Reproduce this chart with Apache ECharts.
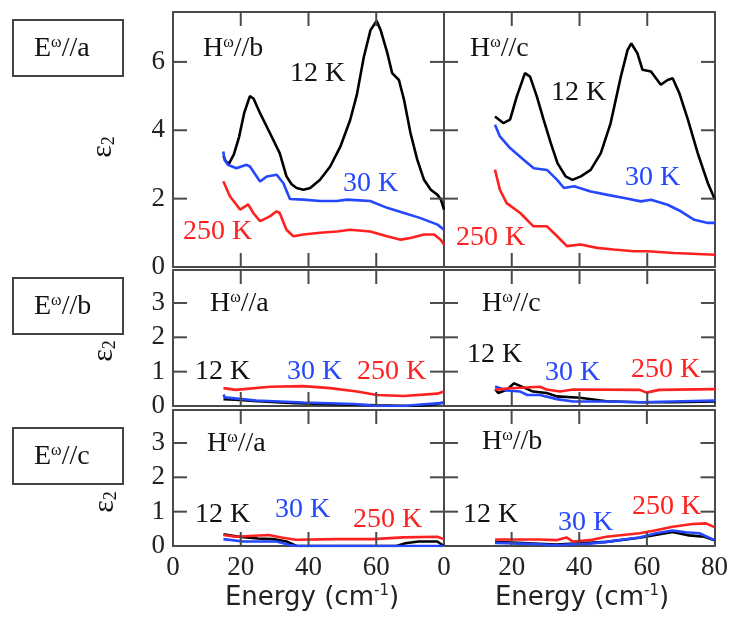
<!DOCTYPE html>
<html>
<head>
<meta charset="utf-8">
<script src="https://cdn.jsdelivr.net/npm/echarts@6/dist/echarts.min.js"></script>
<style>html,body{margin:0;padding:0;background:#fff}#c{width:731px;height:617px}</style>
</head>
<body>
<div id="c"></div>
<script>
// ---- data: [energy (cm-1), eps2] ----
const xTicks = [0, 20, 40, 60, 80];
const yTicksTop = [0, 2, 4, 6];
const yTicksLow = [0, 1, 2, 3];

// E//a, H//b
const ab12 = [[14.9,3.25],[15.5,3.1],[16.5,3.02],[18,3.3],[19.5,3.8],[21,4.5],[22.7,5.0],[23.8,4.92],[25.7,4.5],[28.6,3.92],[31.5,3.33],[33.5,2.65],[35,2.42],[36.5,2.31],[38.5,2.26],[40.5,2.31],[43.4,2.55],[46.4,2.94],[49.4,3.52],[52.3,4.3],[54.3,5.05],[56.3,6.13],[58.3,6.93],[60.1,7.2],[61.3,6.93],[63.3,6.25],[64.7,5.67],[66.7,5.47],[68.2,4.89],[70.1,3.92],[72.1,3.14],[74.1,2.55],[76.1,2.26],[78.1,2.11],[79.1,1.97],[80,1.68]];
const ab30 = [[14.85,3.38],[15.2,3.14],[16.2,2.99],[18.7,2.89],[21.7,2.99],[22.7,2.94],[25.7,2.5],[27.7,2.65],[30.6,2.7],[32.6,2.45],[34.5,1.99],[38.5,1.97],[43.4,1.93],[48.4,1.93],[51.3,1.97],[55,1.95],[58.2,1.93],[63.2,1.73],[68.2,1.58],[73.1,1.43],[78.1,1.24],[80,1.09]];
const ab250 = [[14.85,2.51],[16.8,2.07],[19.8,1.68],[22.2,1.83],[23.7,1.58],[25.7,1.34],[28.6,1.48],[30.6,1.63],[31.5,1.58],[33.5,1.09],[35.5,0.9],[38.5,0.95],[43.4,1.0],[48.4,1.04],[52.3,1.09],[58.2,1.04],[63.2,0.9],[67.2,0.8],[70.1,0.85],[74.1,0.95],[77.1,0.95],[79,0.8],[80,0.66]];

// E//a, H//c
const ac12 = [[15.05,4.4],[17.5,4.21],[19.5,4.31],[21.5,4.99],[23.9,5.67],[25.4,5.57],[27.4,4.99],[29.4,4.31],[31.5,3.63],[33.5,3.04],[35.9,2.65],[37.9,2.55],[40.4,2.65],[43.3,2.84],[46.3,3.33],[49.2,4.21],[52.2,5.57],[54.2,6.35],[55.3,6.54],[57.1,6.25],[58.6,5.77],[61.1,5.72],[64.0,5.33],[66.0,5.47],[67.5,5.52],[69.5,5.08],[72.0,4.31],[74.9,3.33],[77.9,2.45],[80,1.97]];
const ac30 = [[15.05,4.16],[16.5,3.82],[19.5,3.48],[23.5,3.14],[26.5,2.89],[30.4,2.84],[33.4,2.55],[35.4,2.31],[38.4,2.36],[43.3,2.21],[48.3,2.11],[53.2,2.02],[58.1,1.92],[61.1,1.97],[66.0,1.82],[69.9,1.63],[73.9,1.38],[77.9,1.29],[80,1.29]];
const ac250 = [[15.05,2.85],[16.5,2.26],[18.5,1.87],[22.5,1.58],[26.4,1.19],[30.4,1.19],[33.4,0.9],[36.3,0.61],[40.3,0.66],[45.2,0.56],[50.1,0.51],[56.0,0.46],[60.0,0.46],[67.9,0.41],[80,0.36]];

// E//b, H//a
const ba12 = [[14.9,0.2],[18.5,0.18],[25,0.14],[36,0.08],[48,0.05],[60,0.02],[70,0.0],[76,0.03],[80,0.1]];
const ba30 = [[14.9,0.33],[15.3,0.25],[24.6,0.16],[38.5,0.1],[53.3,0.06],[60.2,0.0],[68,0.0],[74.1,0.05],[80,0.09]];
const ba250 = [[14.9,0.52],[18.5,0.47],[28.6,0.56],[38.5,0.58],[46.4,0.52],[54.3,0.42],[60.2,0.32],[68.1,0.29],[78,0.36],[80,0.42]];

// E//b, H//c
const bc12 = [[15.1,0.49],[16,0.38],[18.5,0.47],[20.7,0.66],[22.8,0.57],[26.3,0.42],[30.3,0.38],[33.3,0.28],[40.1,0.24],[48,0.14],[57.8,0.11],[68,0.11],[80,0.13]];
const bc30 = [[15.1,0.57],[18.5,0.45],[22.5,0.42],[24.6,0.32],[28.3,0.32],[33.3,0.2],[38.1,0.13],[48,0.13],[57.8,0.11],[80,0.16]];
const bc250 = [[15.1,0.47],[18.5,0.51],[28.3,0.56],[30.3,0.48],[34.2,0.42],[38.1,0.48],[57.8,0.47],[59.8,0.39],[63.5,0.47],[80,0.49]];

// E//c, H//a
const ca12 = [[14.9,0.34],[18.5,0.28],[25,0.22],[29.6,0.2],[33.5,0.13],[36.5,0.0],[50,0.0],[66,0.0],[68.6,0.08],[72.5,0.13],[78,0.13],[80,0.0]];
const ca30 = [[14.9,0.2],[20.7,0.13],[30.6,0.13],[34.5,0.03],[36.5,0.0],[50,0.0],[80,0.0]];
const ca250 = [[14.9,0.32],[18.5,0.27],[28.3,0.32],[32,0.25],[36.3,0.18],[48,0.2],[59,0.2],[68,0.25],[78,0.27],[80,0.2]];

// E//c, H//b
const cb12 = [[15.1,0.12],[33.2,0.04],[48,0.12],[57.8,0.24],[67.6,0.41],[72.5,0.31],[77,0.27],[80,0.17]];
const cb30 = [[15.1,0.09],[28.3,0.05],[33.2,0.02],[38.2,0.05],[43.1,0.07],[48,0.12],[57.8,0.25],[62.7,0.37],[67.6,0.45],[71.5,0.4],[75.5,0.37],[80,0.17]];
const cb250 = [[15.1,0.19],[28.3,0.19],[33.2,0.17],[36.2,0.25],[38.2,0.13],[43.1,0.17],[48,0.27],[57.8,0.37],[62.7,0.46],[67.6,0.56],[73.5,0.64],[77.5,0.66],[80,0.55]];

const panelData = [
  [ab12, ab30, ab250], [ac12, ac30, ac250],
  [ba12, ba30, ba250], [bc12, bc30, bc250],
  [ca12, ca30, ca250], [cb12, cb30, cb250]
];
const colors = ['#000000', '#2447ff', '#ff2020'];

const SERIF = "'Liberation Serif','Times New Roman',serif";
const SANS = "'DejaVu Sans',sans-serif";
const AX = '#4a4a4a';
const TICK_LEN = 14;

const grids = [
  {left:173, top:12, width:271, height:255},
  {left:444, top:12, width:271, height:255},
  {left:173, top:270, width:271, height:136},
  {left:444, top:270, width:271, height:136},
  {left:173, top:410, width:271, height:136},
  {left:444, top:410, width:271, height:136}
];
const yMaxes = [7.46, 7.46, 3.96, 3.96, 3.96, 3.96];

const mkLine = () => ({show:true, onZero:false, lineStyle:{color:AX, width:2}});

const xAxes = [], yAxes = [], series = [];
grids.forEach((g, i) => {
  const isTop = i < 2, isBottom = i >= 4, isLeft = i % 2 === 0;
  const ymax = yMaxes[i];
  const yint = isTop ? 2 : 1;
  xAxes.push({
    type:'value', gridIndex:i, position:'bottom', min:0, max:80, interval:20,
    axisLine:mkLine(), axisTick:{show:false}, splitLine:{show:false},
    axisLabel:{show:isBottom, margin:8, fontFamily:SERIF, fontSize:27, color:'#222',
      showMinLabel:true, showMaxLabel: !isLeft}
  });
  xAxes.push({
    type:'value', gridIndex:i, position:'top', min:0, max:80, interval:20,
    axisLine:mkLine(), axisTick:{show:false}, splitLine:{show:false}, axisLabel:{show:false}
  });
  yAxes.push({
    type:'value', gridIndex:i, position:'left', min:0, max:ymax, interval:yint,
    axisLine:mkLine(), axisTick:{show:false}, splitLine:{show:false},
    axisLabel:{show:isLeft, margin:8, fontFamily:SERIF, fontSize:27, color:'#222',
      showMinLabel:true, showMaxLabel:false}
  });
  yAxes.push({
    type:'value', gridIndex:i, position:'right', min:0, max:ymax, interval:yint,
    axisLine:mkLine(), axisTick:{show:false}, splitLine:{show:false}, axisLabel:{show:false}
  });
  panelData[i].forEach((d, k) => {
    series.push({
      type:'line', xAxisIndex:2*i, yAxisIndex:2*i, data:d, showSymbol:false,
      lineStyle:{color:colors[k], width:2.6}, z: 2 + k
    });
  });
});

// annotation text
const lab = (x, y, text, color) => ({
  type:'text', x:x, y:y, z:100,
  style:{text:text, fill:color, font:'28px ' + SERIF, align:'left', verticalAlign:'middle'}
});
const hlab = (x, y, pre, post) => ({
  type:'text', x:x, y:y, z:100,
  style:{
    text:'{a|' + pre + '}{s|ω}{a|' + post + '}', align:'left', verticalAlign:'middle',
    rich:{
      a:{fontFamily:SERIF, fontSize:28, fill:'#111', lineHeight:28},
      s:{fontFamily:SERIF, fontSize:16, fill:'#111', verticalAlign:'top', lineHeight:16}
    }
  }
});
const box = (y, t) => [
  {type:'rect', shape:{x:13, y:y, width:110, height:56}, style:{fill:'#fff', stroke:'#444', lineWidth:2}, z:100},
  hlab(34, y + 29, 'E', '//' + t)
];
const eps = (x, y) => ({
  type:'text', x:x, y:y, rotation:Math.PI/2, z:100,
  style:{
    text:'{e|ε}{b|2}', align:'center', verticalAlign:'middle',
    rich:{
      e:{fontFamily:SERIF, fontSize:30, fill:'#111', lineHeight:30},
      b:{fontFamily:SERIF, fontSize:18, fill:'#111', verticalAlign:'bottom', lineHeight:18}
    }
  }
});
const energy = (cx) => ({
  type:'text', x:cx, y:598, z:100,
  style:{
    text:'{a|Energy (cm}{s|-1}{a|)}', align:'center', verticalAlign:'middle',
    rich:{
      a:{fontFamily:SANS, fontSize:26, fill:'#222', lineHeight:28},
      s:{fontFamily:SANS, fontSize:15, fill:'#222', verticalAlign:'top', lineHeight:15}
    }
  }
});

const annotations = [
  ...box(20, 'a'), ...box(278, 'b'), ...box(428, 'c'),
  eps(103, 147), eps(104, 351), eps(105, 502),
  energy(312), energy(582),
  hlab(203, 49, 'H', '//b'), lab(290, 74, '12 K', '#111'), lab(343, 184, '30 K', '#2447ff'), lab(183, 232, '250 K', '#ff2020'),
  hlab(470, 49, 'H', '//c'), lab(551, 93, '12 K', '#111'), lab(625, 178, '30 K', '#2447ff'), lab(456, 238, '250 K', '#ff2020'),
  hlab(210, 304, 'H', '//a'), lab(195, 372, '12 K', '#111'), lab(287, 372, '30 K', '#2447ff'), lab(357, 372, '250 K', '#ff2020'),
  hlab(482, 304, 'H', '//c'), lab(467, 355, '12 K', '#111'), lab(545, 373, '30 K', '#2447ff'), lab(631, 370, '250 K', '#ff2020'),
  hlab(207, 444, 'H', '//a'), lab(195, 515, '12 K', '#111'), lab(275, 510, '30 K', '#2447ff'), lab(353, 520, '250 K', '#ff2020'),
  hlab(482, 442, 'H', '//b'), lab(463, 515, '12 K', '#111'), lab(558, 523, '30 K', '#2447ff'), lab(632, 507, '250 K', '#ff2020')
];

const chart = echarts.init(document.getElementById('c'));
chart.setOption({
  animation:false,
  backgroundColor:'#ffffff',
  grid:grids,
  xAxis:xAxes,
  yAxis:yAxes,
  series:series,
  graphic:annotations
});

// inward frame ticks on all four sides, positioned through each panel's own axis scales
const tickEls = [];
grids.forEach((g, i) => {
  const ymax = yMaxes[i];
  const yt = i < 2 ? yTicksTop : yTicksLow;
  const finder = {xAxisIndex:2*i, yAxisIndex:2*i};
  xTicks.filter(v => v > 0 && v < 80).forEach(v => {
    const b = chart.convertToPixel(finder, [v, 0]);
    const t = chart.convertToPixel(finder, [v, ymax]);
    tickEls.push({type:'rect', z:90, silent:true, shape:{x:b[0] - 1, y:b[1] - TICK_LEN, width:2, height:TICK_LEN}, style:{fill:AX}});
    tickEls.push({type:'rect', z:90, silent:true, shape:{x:t[0] - 1, y:t[1], width:2, height:TICK_LEN}, style:{fill:AX}});
  });
  yt.filter(v => v > 0).forEach(v => {
    const l = chart.convertToPixel(finder, [0, v]);
    const r = chart.convertToPixel(finder, [80, v]);
    tickEls.push({type:'rect', z:90, silent:true, shape:{x:l[0], y:l[1] - 1, width:TICK_LEN, height:2}, style:{fill:AX}});
    tickEls.push({type:'rect', z:90, silent:true, shape:{x:r[0] - TICK_LEN, y:r[1] - 1, width:TICK_LEN, height:2}, style:{fill:AX}});
  });
});
chart.setOption({graphic: annotations.concat(tickEls)});
</script>
</body>
</html>
